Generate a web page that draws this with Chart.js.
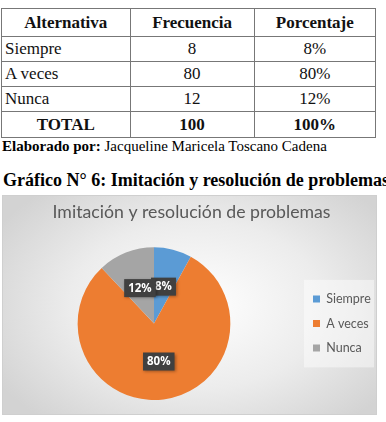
<!DOCTYPE html>
<html>
<head>
<meta charset="utf-8">
<script src="https://cdn.jsdelivr.net/npm/chart.js@4"></script>
<style>
  body { margin: 0; width: 386px; height: 422px; overflow: hidden; background: #fff; position: relative; font-family: "Liberation Serif", serif; }
  table { position: absolute; left: 1px; top: 8px; width: 375px; border-collapse: collapse; font-size: 17px; color: #111; }
  td, th { border: 1px solid #777; padding: 0 3px; height: 24px; line-height: 22px; }
  th { height: 27px; font-weight: bold; }
  td.c { text-align: center; }
  tr.total td { font-weight: bold; text-align: center; height: 25px; }
  #credit { position: absolute; left: 2px; top: 138px; font-size: 15px; white-space: nowrap; }
  #heading { position: absolute; left: 3px; top: 170px; font-size: 18px; font-weight: bold; white-space: nowrap; }
  #box { position: absolute; left: 2px; top: 195px; width: 373px; height: 218px; border: 1px solid #cfcfcf;
    background: radial-gradient(ellipse 62% 70% at 52% 50%, #ffffff 0%, #ececec 55%, #d3d3d3 100%); }
</style>
</head>
<body>
<table id="tbl"></table>
<div id="credit"><b>Elaborado por:</b> Jacqueline Maricela Toscano Cadena</div>
<div id="heading">Gráfico N° 6: Imitación y resolución de problemas</div>
<div id="box"><canvas id="myChart" width="373" height="218"></canvas></div>
<script>
'use strict';

let categories = ['Siempre', 'A veces', 'Nunca'];
let frequencies = [8, 80, 12];
let percents = [8, 80, 12];
let colors = ['#5b9bd5', '#ed7d31', '#a5a5a5'];

// table above the chart
let tbl = document.getElementById('tbl');
let html = '<tr><th>Alternativa</th><th>Frecuencia</th><th>Porcentaje</th></tr>';
let total = 0;
for (let i = 0; i < categories.length; i++) {
  total += frequencies[i];
  html += `<tr><td>${categories[i]}</td><td class="c">${frequencies[i]}</td><td class="c">${percents[i]}%</td></tr>`;
}
html += `<tr class="total"><td>TOTAL</td><td>${total}</td><td>100%</td></tr>`;
tbl.innerHTML = html;

// dark boxes with the percentage on each slice
let sliceLabels = {
  id: 'sliceLabels',
  afterDatasetsDraw(chart) {
    let ctx = chart.ctx;
    let meta = chart.getDatasetMeta(0);
    ctx.save();
    ctx.font = 'bold 11.5px "Open Sans"';
    ctx.textAlign = 'center';
    ctx.textBaseline = 'middle';
    meta.data.forEach(function (arc, i) {
      let p = arc.getCenterPoint();
      let text = percents[i] + '%';
      let w = ctx.measureText(text).width + 8;
      let h = 18;
      ctx.shadowColor = 'rgba(0,0,0,0.35)';
      ctx.shadowBlur = 3;
      ctx.shadowOffsetX = 1;
      ctx.shadowOffsetY = 1;
      ctx.fillStyle = '#404040';
      ctx.fillRect(p.x - w / 2, p.y - h / 2, w, h);
      ctx.shadowColor = 'transparent';
      ctx.fillStyle = '#ffffff';
      ctx.fillText(text, p.x, p.y + 0.5);
    });
    ctx.restore();
  }
};

// light panel behind the legend
let legendPanel = {
  id: 'legendPanel',
  beforeDraw(chart) {
    let lg = chart.legend;
    if (!lg || !lg.legendHitBoxes.length) return;
    let boxes = lg.legendHitBoxes;
    let first = boxes[0];
    let last = boxes[boxes.length - 1];
    let ctx = chart.ctx;
    ctx.save();
    ctx.fillStyle = 'rgba(255,255,255,0.45)';
    ctx.fillRect(first.left - 9, first.top - 13, 70, last.top + last.height - first.top + 26);
    ctx.restore();
  }
};

let ctx = document.getElementById('myChart').getContext('2d');
new Chart(ctx, {
  type: 'pie',
  data: {
    labels: categories,
    datasets: [{
      data: percents,
      backgroundColor: colors,
      borderWidth: 0
    }]
  },
  options: {
    responsive: false,
    animation: false,
    layout: { padding: { left: 4, right: 0, top: 0, bottom: 14 } },
    plugins: {
      title: {
        display: true,
        text: 'Imitación y resolución de problemas',
        color: '#595959',
        font: { family: 'Lato', size: 17.7, weight: 'normal' },
        padding: { top: 6, bottom: 24 }
      },
      legend: {
        position: 'right',
        fullSize: false,
        maxWidth: 75,
        labels: {
          boxWidth: 7,
          boxHeight: 7,
          padding: 12,
          color: '#595959',
          font: { family: 'Lato', size: 12.5 }
        }
      },
      tooltip: { enabled: false }
    }
  },
  plugins: [legendPanel, sliceLabels]
});
</script>
</body>
</html>
